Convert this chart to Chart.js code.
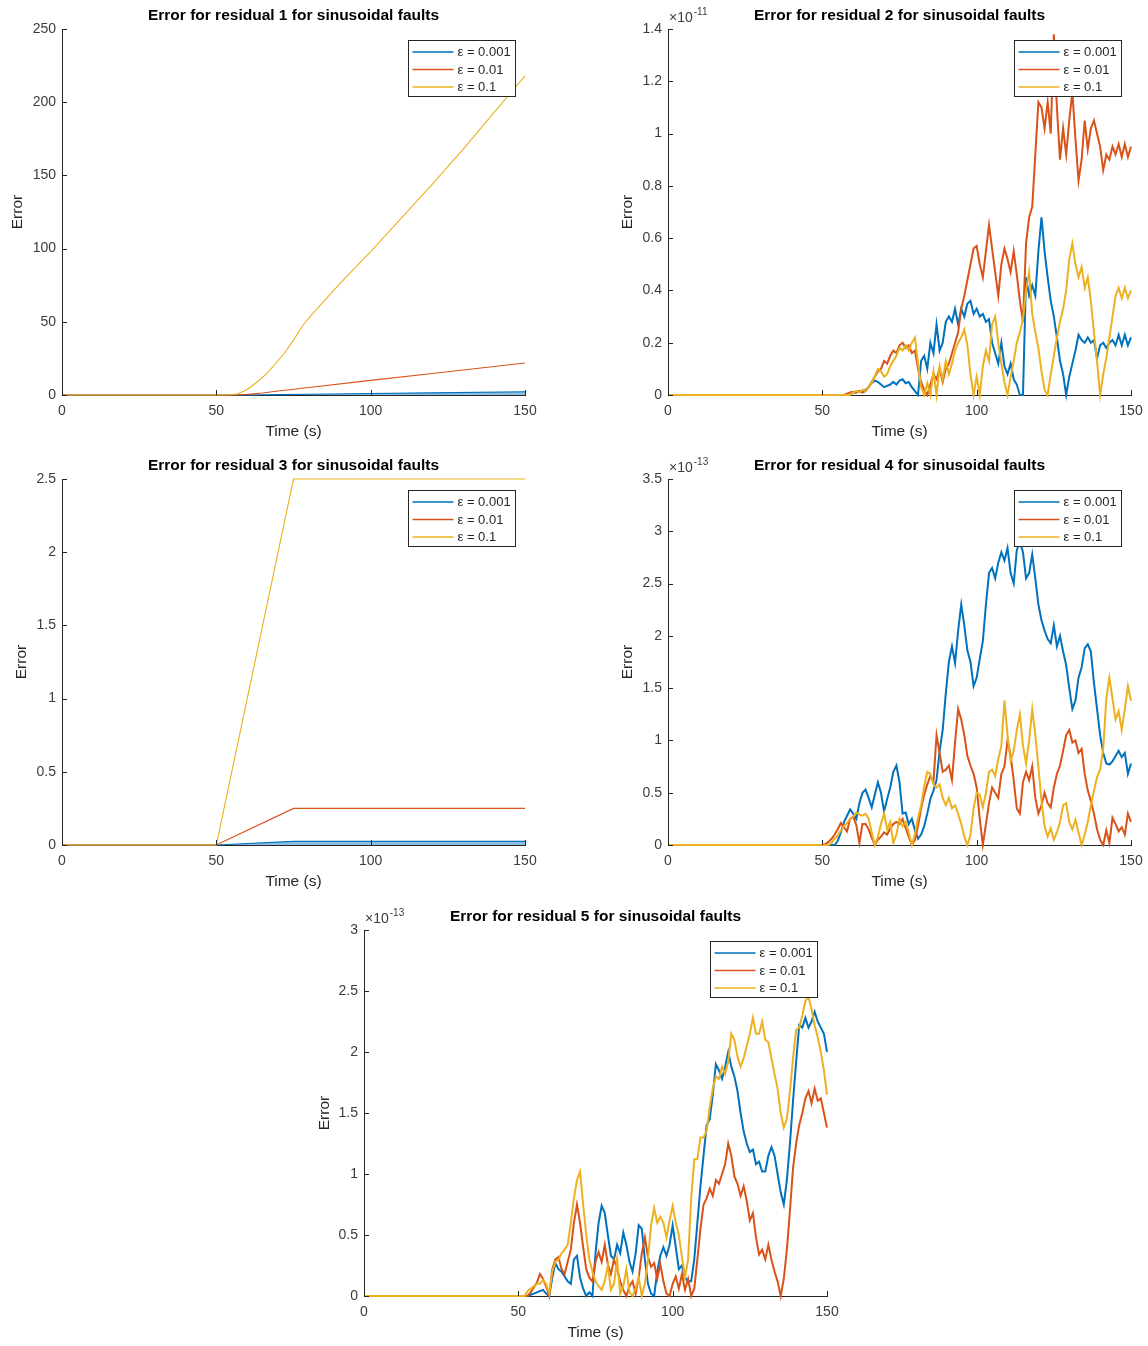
<!DOCTYPE html>
<html>
<head>
<meta charset="utf-8">
<title>Error for residuals under sinusoidal faults</title>
<script src="https://cdn.jsdelivr.net/npm/chart.js@4.4.1/dist/chart.umd.min.js"></script>
<style>
  html, body { margin: 0; padding: 0; background: #ffffff; width: 1148px; height: 1346px; overflow: hidden; }
  .panel { position: absolute; width: 540px; height: 445px; }
  .panel canvas { display: block; }
</style>
</head>
<body>
<div class="panel" style="left:0px;top:0px"><canvas id="res1" width="540" height="445"></canvas></div>
<div class="panel" style="left:606px;top:0px"><canvas id="res2" width="540" height="445"></canvas></div>
<div class="panel" style="left:0px;top:450px"><canvas id="res3" width="540" height="445"></canvas></div>
<div class="panel" style="left:606px;top:450px"><canvas id="res4" width="540" height="445"></canvas></div>
<div class="panel" style="left:302px;top:901px"><canvas id="res5" width="540" height="445"></canvas></div>
<script>
// ---- Series names and colours ----
const SERIES_LABELS = ['ε = 0.001', 'ε = 0.01', 'ε = 0.1'];
const SERIES_COLORS = ['#0072BD', '#D95319', '#EDB120'];

// ---- Residual 1 (smooth growth) ----
const r1TimeCurve = [0, 54, 57, 60, 63, 66, 69, 72, 75, 78, 81, 90, 100, 110, 120, 130, 140, 150];
const r1Eps0p1    = [0, 0, 0.8, 3.8, 8.5, 14, 21, 28.5, 37.5, 47.5, 55, 76, 98, 121, 144, 168, 193, 218];
const r1TimeRamp  = [0, 56, 60, 65, 70, 80, 100, 120, 150];
const r1Eps0p01   = [0, 0, 0.4, 1.4, 2.7, 5.1, 10, 14.7, 21.9];
const r1Eps0p001  = [0, 0, 0.04, 0.14, 0.27, 0.51, 1.0, 1.47, 2.19];

// ---- Residual 3 (ramp then hold) ----
const r3Time      = [0, 50, 75, 150];
const r3Eps0p1    = [0, 0, 2.5, 2.5];
const r3Eps0p01   = [0, 0, 0.25, 0.25];
const r3Eps0p001  = [0, 0, 0.025, 0.025];

// ---- Noisy residuals: one sample at 0 s, then one per second from 50 s to 150 s ----
const noisyTime = [0];
for (let s = 50; s <= 150; s++) noisyTime.push(s);

// Residual 2, values in units of 1e-11
const r2Eps0p001 = [0,
  0, 0, 0, 0, 0, 0, 0, 0, 0, 0,
  0.01, 0.01, 0.015, 0.01, 0.02, 0.03, 0.045, 0.055, 0.05, 0.04,
  0.03, 0.035, 0.04, 0.05, 0.04, 0.055, 0.06, 0.045, 0.05, 0.03,
  0.015, 0, 0.13, 0.15, 0.1, 0.2, 0.16, 0.27, 0.17, 0.2,
  0.28, 0.3, 0.28, 0.33, 0.27, 0.33, 0.3, 0.35, 0.36, 0.31,
  0.33, 0.3, 0.31, 0.28, 0.29, 0.2, 0.16, 0.12, 0.2, 0.11,
  0.08, 0.12, 0.06, 0.04, 0, 0, 0.45, 0.38, 0.42, 0.38,
  0.55, 0.68, 0.55, 0.45, 0.36, 0.3, 0.22, 0.13, 0.08, 0,
  0.07, 0.12, 0.17, 0.23, 0.21, 0.2, 0.22, 0.2, 0.21, 0.14,
  0.19, 0.2, 0.18, 0.2, 0.21, 0.19, 0.23, 0.19, 0.23, 0.19,
  0.22];
const r2Eps0p01 = [0,
  0, 0, 0, 0, 0, 0, 0, 0, 0.005, 0.01,
  0.012, 0.01, 0.015, 0.01, 0.015, 0.03, 0.05, 0.07, 0.09, 0.1,
  0.13, 0.12, 0.15, 0.17, 0.16, 0.19, 0.2, 0.18, 0.19, 0.16,
  0.17, 0.1, 0.05, 0.02, 0, 0.04, 0.08, 0.06, 0.1, 0.05,
  0.1, 0.12, 0.16, 0.2, 0.24, 0.33, 0.38, 0.44, 0.5, 0.56,
  0.57, 0.5, 0.45, 0.55, 0.65, 0.56, 0.47, 0.38, 0.5, 0.56,
  0.52, 0.47, 0.55, 0.46, 0.36, 0.28, 0.58, 0.68, 0.72, 0.92,
  1.12, 1.1, 1.02, 1.12, 1.0, 1.38, 1.1, 0.9, 1.02, 0.92,
  1.05, 1.16, 0.98, 0.82, 0.9, 1.05, 0.94, 1.02, 1.05, 1.0,
  0.95, 0.86, 0.92, 0.9, 0.95, 0.92, 0.96, 0.91, 0.96, 0.91,
  0.95];
const r2Eps0p1 = [0,
  0, 0, 0, 0, 0, 0, 0, 0, 0, 0,
  0.01, 0.015, 0.01, 0.02, 0.015, 0.03, 0.045, 0.07, 0.1, 0.09,
  0.07, 0.08, 0.11, 0.13, 0.15, 0.18, 0.17, 0.19, 0.17, 0.2,
  0.22, 0.12, 0.03, 0, 0.045, 0, 0.09, 0, 0.11, 0.06,
  0.13, 0.08, 0.12, 0.17, 0.2, 0.22, 0.25, 0.19, 0.08, 0,
  0.07, 0, 0.11, 0.17, 0.13, 0.27, 0.3, 0.2, 0.12, 0.05,
  0, 0.07, 0.13, 0.2, 0.24, 0.29, 0.4, 0.47, 0.31, 0.24,
  0.18, 0.09, 0.02, 0, 0.08, 0.15, 0.22, 0.28, 0.33, 0.4,
  0.52, 0.58, 0.5, 0.45, 0.49, 0.41, 0.45, 0.36, 0.24, 0.13,
  0, 0.08, 0.14, 0.22, 0.3, 0.38, 0.41, 0.37, 0.41, 0.37,
  0.4];

// Residual 4, values in units of 1e-13
const r4Eps0p001 = [0,
  0, 0, 0, 0, 0, 0.04, 0.12, 0.22, 0.28, 0.34,
  0.3, 0.25, 0.4, 0.5, 0.53, 0.45, 0.36, 0.48, 0.6, 0.5,
  0.32, 0.44, 0.55, 0.7, 0.76, 0.6, 0.3, 0.31, 0.2, 0.25,
  0.14, 0.06, 0.1, 0.18, 0.3, 0.44, 0.52, 0.62, 0.9, 1.1,
  1.45, 1.75, 1.9, 1.74, 2.05, 2.3, 2.1, 1.86, 1.75, 1.52,
  1.6, 1.78, 1.95, 2.3, 2.6, 2.65, 2.55, 2.7, 2.8, 2.72,
  2.84, 2.6, 2.5, 2.82, 2.9, 2.8, 2.55, 2.6, 2.78, 2.55,
  2.3, 2.15, 2.05, 1.97, 1.93, 2.1, 1.9, 2.0, 1.85, 1.72,
  1.5, 1.3, 1.38, 1.6, 1.7, 1.88, 1.92, 1.85, 1.55, 1.3,
  1.05, 0.88, 0.78, 0.77, 0.8, 0.85, 0.9, 0.84, 0.88, 0.68,
  0.78];
const r4Eps0p01 = [0,
  0, 0.01, 0.03, 0.06, 0.1, 0.15, 0.21, 0.17, 0.13, 0.25,
  0.27, 0.19, 0.02, 0.2, 0.2, 0.15, 0.07, 0, 0.05, 0.08,
  0.12, 0.1, 0.16, 0.2, 0.22, 0.2, 0.25, 0.16, 0.08, 0,
  0.05, 0.18, 0.35, 0.48, 0.58, 0.66, 0.6, 1.05, 0.88, 0.7,
  0.72, 0.76, 0.62, 0.98, 1.3, 1.2, 1.05, 0.85, 0.76, 0.68,
  0.55, 0.25, 0, 0.2, 0.4, 0.55, 0.5, 0.45, 0.68, 0.75,
  1.0, 0.86, 0.62, 0.35, 0.3, 0.6, 0.7, 0.62, 0.75, 0.45,
  0.3, 0.38, 0.5, 0.4, 0.36, 0.55, 0.68, 0.76, 0.9, 1.05,
  1.1, 0.98, 1.0, 0.88, 0.92, 0.68, 0.52, 0.42, 0.3, 0.15,
  0.05, 0, 0.14, 0.02, 0.26, 0.2, 0.13, 0.17, 0.1, 0.3,
  0.22];
const r4Eps0p1 = [0,
  0, 0, 0, 0.02, 0.06, 0.09, 0.14, 0.18, 0.21, 0.25,
  0.27, 0.31, 0.29, 0.28, 0.3, 0.25, 0.12, 0, 0.08, 0.2,
  0.3, 0.15, 0.22, 0.02, 0.1, 0.25, 0.18, 0.22, 0.12, 0,
  0.1, 0.26, 0.38, 0.56, 0.7, 0.68, 0.58, 0.55, 0.58, 0.45,
  0.38, 0.45, 0.35, 0.38, 0.3, 0.2, 0.08, 0, 0.1, 0.35,
  0.5, 0.48, 0.36, 0.5, 0.7, 0.72, 0.66, 0.82, 0.95, 1.38,
  1.05, 0.8, 0.9, 1.1, 1.25, 0.95, 0.78, 1.0, 1.3, 1.05,
  0.75, 0.42, 0.18, 0.08, 0.16, 0.05, 0.12, 0.22, 0.38, 0.4,
  0.22, 0.15, 0.24, 0.12, 0, 0.1, 0.22, 0.38, 0.52, 0.65,
  0.72, 0.92, 1.4, 1.6, 1.4, 1.2, 1.28, 1.1, 1.3, 1.52,
  1.38];

// Residual 5, values in units of 1e-13
const r5Eps0p001 = [0,
  0, 0, 0, 0, 0.01, 0.02, 0.03, 0.04, 0.05, 0.02,
  0, 0.15, 0.27, 0.22, 0.2, 0.16, 0.12, 0.1, 0.3, 0.33,
  0.15, 0.06, 0, 0.03, 0, 0.35, 0.6, 0.74, 0.68, 0.5,
  0.33, 0.3, 0.42, 0.35, 0.52, 0.42, 0.28, 0.2, 0.35, 0.58,
  0.55, 0.3, 0.1, 0.02, 0, 0.2, 0.33, 0.4, 0.33, 0.42,
  0.58, 0.4, 0.22, 0.25, 0.15, 0.12, 0.12, 0.3, 0.6, 0.9,
  1.15, 1.4, 1.45, 1.65, 1.9, 1.85, 1.78, 1.88, 2.0, 1.88,
  1.8, 1.68, 1.5, 1.35, 1.25, 1.18, 1.2, 1.08, 1.1, 1.02,
  1.02, 1.15, 1.22, 1.15, 1.0, 0.85, 0.75, 0.95, 1.25, 1.6,
  1.92, 2.22, 2.2, 2.28, 2.2, 2.25, 2.33, 2.25, 2.2, 2.15,
  2.0];
const r5Eps0p01 = [0,
  0, 0, 0, 0, 0.03, 0.07, 0.11, 0.18, 0.14, 0.08,
  0, 0.22, 0.3, 0.32, 0.22, 0.18, 0.28, 0.38, 0.6, 0.75,
  0.6, 0.4, 0.22, 0.15, 0.12, 0.28, 0.36, 0.28, 0.42, 0.26,
  0.18, 0.3, 0.22, 0.12, 0.05, 0, 0.08, 0.12, 0.02, 0.15,
  0.35, 0.48, 0.32, 0.24, 0.27, 0.14, 0.26, 0.12, 0.02, 0,
  0.1, 0.16, 0.06, 0.18, 0.05, 0.14, 0, 0.06, 0.3, 0.55,
  0.75, 0.8, 0.88, 0.82, 0.95, 0.92, 1.0, 1.08, 1.25, 1.15,
  0.98, 0.92, 0.82, 0.9, 0.78, 0.62, 0.68, 0.48, 0.34, 0.38,
  0.3, 0.42, 0.3, 0.2, 0.12, 0, 0.14, 0.38, 0.7, 1.05,
  1.25, 1.4, 1.5, 1.62, 1.68, 1.58, 1.7, 1.6, 1.62, 1.5,
  1.38];
const r5Eps0p1 = [0,
  0, 0, 0, 0.04, 0.06, 0.08, 0.1, 0.1, 0.13, 0.1,
  0.02, 0.2, 0.28, 0.3, 0.35, 0.38, 0.42, 0.6, 0.8, 0.95,
  1.02, 0.75, 0.5, 0.3, 0.2, 0.12, 0.08, 0.05, 0.12, 0.25,
  0.05, 0.1, 0.3, 0.02, 0.08, 0.22, 0.03, 0, 0.06, 0.15,
  0, 0.1, 0.3, 0.58, 0.72, 0.6, 0.65, 0.6, 0.48, 0.62,
  0.74, 0.6, 0.5, 0.32, 0.15, 0.3, 0.8, 1.12, 1.12, 1.3,
  1.3, 1.35, 1.55, 1.7, 1.8, 1.78, 1.88, 1.82, 1.92, 2.15,
  2.1, 1.96, 1.88, 1.95, 2.05, 2.15, 2.28, 2.15, 2.15, 2.25,
  2.1, 2.08, 1.95, 1.82, 1.7, 1.5, 1.38, 1.45, 1.68, 1.95,
  2.18, 2.2, 2.3, 2.42, 2.45, 2.35, 2.22, 2.12, 2.0, 1.85,
  1.65];

// ---- Drawing ----
const FONT = "'Liberation Sans', Arial, Helvetica, sans-serif";
const INK = '#262626';
const TICK_INK = '#3c3c3c';
Chart.defaults.font.family = FONT;

const formatTick = v => String(parseFloat(Number(v).toFixed(6)));

// Inward tick marks, title, power-of-ten note and boxed legend
const axesDecor = {
  id: 'axesDecor',
  afterDatasetsDraw(chart) {
    const { ctx, chartArea: a, scales: { x, y } } = chart;
    ctx.save();
    ctx.strokeStyle = INK;
    ctx.lineWidth = 1;
    ctx.beginPath();
    x.ticks.forEach(t => {
      const px = Math.round(x.getPixelForValue(t.value)) + 0.5;
      ctx.moveTo(px, a.bottom);
      ctx.lineTo(px, a.bottom - 5);
    });
    y.ticks.forEach(t => {
      const py = Math.round(y.getPixelForValue(t.value)) + 0.5;
      ctx.moveTo(a.left, py);
      ctx.lineTo(a.left + 5, py);
    });
    ctx.stroke();
    ctx.restore();
  },
  afterDraw(chart, args, opts) {
    const { ctx, chartArea: a } = chart;
    ctx.save();
    // title
    ctx.fillStyle = '#000000';
    ctx.font = 'bold 15.5px ' + FONT;
    ctx.textAlign = 'center';
    ctx.textBaseline = 'middle';
    ctx.fillText(opts.title, (a.left + a.right) / 2, a.top - 13);
    // exponent note
    if (opts.exponent) {
      ctx.fillStyle = TICK_INK;
      ctx.textAlign = 'left';
      ctx.textBaseline = 'alphabetic';
      ctx.font = '14px ' + FONT;
      const base = '×10';
      const bx = a.left + 1, by = a.top - 7;
      ctx.fillText(base, bx, by);
      const w = ctx.measureText(base).width;
      ctx.font = '10px ' + FONT;
      ctx.fillText(opts.exponent, bx + w + 1, by - 7);
    }
    // legend
    const boxW = 107, boxH = 56;
    const bx = Math.round(a.right - 10 - boxW) + 0.5;
    const byTop = Math.round(a.top + 11) + 0.5;
    ctx.fillStyle = '#ffffff';
    ctx.fillRect(bx, byTop, boxW, boxH);
    ctx.strokeStyle = INK;
    ctx.lineWidth = 1;
    ctx.strokeRect(bx, byTop, boxW, boxH);
    ctx.font = '13px ' + FONT;
    ctx.textAlign = 'left';
    ctx.textBaseline = 'middle';
    chart.data.datasets.forEach((ds, i) => {
      const ry = byTop + 11.5 + i * 17.5;
      ctx.strokeStyle = ds.borderColor;
      ctx.lineWidth = 1.3;
      ctx.beginPath();
      ctx.moveTo(bx + 4, ry);
      ctx.lineTo(bx + 45, ry);
      ctx.stroke();
      ctx.fillStyle = INK;
      ctx.fillText(ds.label, bx + 49, ry + 0.5);
    });
    ctx.restore();
  }
};

function points(times, values) {
  return times.map((t, i) => ({ x: t, y: values[i] }));
}

function drawPanel(id, cfg) {
  const datasets = cfg.series.map((s, i) => {
    const band = cfg.bandFill && i === 0;
    return {
      label: SERIES_LABELS[i],
      data: points(s[0], s[1]),
      borderColor: SERIES_COLORS[i],
      backgroundColor: band ? 'rgba(0,114,189,0.45)' : SERIES_COLORS[i],
      fill: band ? 'origin' : false,
      borderWidth: cfg.lineWidth,
      pointRadius: 0,
      pointHoverRadius: 0,
      tension: 0,
      clip: false,
      order: 3 - i
    };
  });
  new Chart(document.getElementById(id), {
    type: 'line',
    data: { datasets },
    plugins: [axesDecor],
    options: {
      responsive: false,
      devicePixelRatio: 1,
      animation: false,
      events: [],
      layout: { padding: { left: 0, top: 29, right: 15, bottom: 0 } },
      plugins: {
        legend: { display: false },
        title: { display: false },
        tooltip: { enabled: false },
        axesDecor: { title: cfg.title, exponent: cfg.exponent }
      },
      scales: {
        x: {
          type: 'linear',
          min: 0, max: 150,
          afterFit: s => { s.height = 50; s.paddingLeft = 0; s.paddingRight = 0; },
          grid: { display: false, drawTicks: false },
          border: { display: true, color: INK, width: 1 },
          ticks: { stepSize: 50, padding: 8, maxRotation: 0, color: TICK_INK, font: { size: 14 }, callback: formatTick },
          title: { display: true, text: 'Time (s)', color: INK, font: { size: 15.5 }, padding: { top: 0, bottom: 4 } }
        },
        y: {
          type: 'linear',
          min: 0, max: cfg.yMax,
          afterFit: s => { s.width = 62; s.paddingTop = 0; s.paddingBottom = 0; },
          grid: { display: false, drawTicks: false },
          border: { display: true, color: INK, width: 1 },
          ticks: { stepSize: cfg.yStep, padding: 6, color: TICK_INK, font: { size: 14 }, callback: formatTick },
          title: { display: true, text: 'Error', color: INK, font: { size: 15.5 }, padding: { top: cfg.yTitlePad, bottom: 0 } }
        }
      }
    }
  });
}

drawPanel('res1', {
  title: 'Error for residual 1 for sinusoidal faults',
  yMax: 250, yStep: 50, yTitlePad: 8, lineWidth: 1.1, bandFill: true,
  series: [[r1TimeRamp, r1Eps0p001], [r1TimeRamp, r1Eps0p01], [r1TimeCurve, r1Eps0p1]]
});
drawPanel('res2', {
  title: 'Error for residual 2 for sinusoidal faults', exponent: '-11',
  yMax: 1.4, yStep: 0.2, yTitlePad: 12, lineWidth: 2,
  series: [[noisyTime, r2Eps0p001], [noisyTime, r2Eps0p01], [noisyTime, r2Eps0p1]]
});
drawPanel('res3', {
  title: 'Error for residual 3 for sinusoidal faults',
  yMax: 2.5, yStep: 0.5, yTitlePad: 12, lineWidth: 1.2, bandFill: true,
  series: [[r3Time, r3Eps0p001], [r3Time, r3Eps0p01], [r3Time, r3Eps0p1]]
});
drawPanel('res4', {
  title: 'Error for residual 4 for sinusoidal faults', exponent: '-13',
  yMax: 3.5, yStep: 0.5, yTitlePad: 12, lineWidth: 2,
  series: [[noisyTime, r4Eps0p001], [noisyTime, r4Eps0p01], [noisyTime, r4Eps0p1]]
});
drawPanel('res5', {
  title: 'Error for residual 5 for sinusoidal faults', exponent: '-13',
  yMax: 3, yStep: 0.5, yTitlePad: 13, lineWidth: 2,
  series: [[noisyTime, r5Eps0p001], [noisyTime, r5Eps0p01], [noisyTime, r5Eps0p1]]
});
</script>
</body>
</html>
